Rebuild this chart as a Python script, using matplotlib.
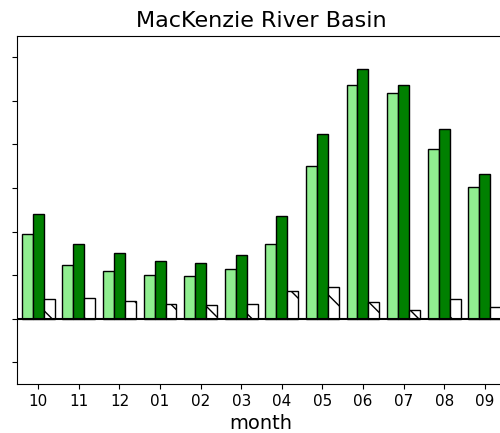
import numpy as np
import matplotlib
matplotlib.use("Agg")
import matplotlib.pyplot as plt

# monthly values (water year, Oct - Sep)
months = ["10", "11", "12", "01", "02", "03", "04", "05", "06", "07", "08", "09"]
light = [1.94, 1.23, 1.10, 1.00, 0.97, 1.13, 1.72, 3.50, 5.36, 5.17, 3.90, 3.02]
dark = [2.40, 1.71, 1.50, 1.33, 1.29, 1.47, 2.35, 4.23, 5.73, 5.37, 4.36, 3.31]
white = [0.45, 0.48, 0.41, 0.33, 0.31, 0.34, 0.64, 0.73, 0.38, 0.21, 0.46, 0.28]

x = np.arange(len(months))
w = 0.27

fig = plt.figure(figsize=(5.0, 4.33), dpi=100)
# axes run past the right edge of the image, as in the reference
ax = fig.add_axes([0.034, 0.113, 0.976, 0.805])

ax.bar(x - w, light, w, color="lightgreen", edgecolor="black", linewidth=1)
ax.bar(x, dark, w, color="green", edgecolor="black", linewidth=1)
ax.bar(x + w, white, w, color="white", edgecolor="black", linewidth=1, hatch="\\")
ax.axhline(0, color="black", linewidth=1.5)

ax.set_xticks(x)
ax.set_xticklabels(months, fontsize=11)
ax.set_yticks(np.arange(-1, 7))
ax.set_yticklabels([])
ax.set_xlim(-0.525, 11.5)
ax.set_ylim(-1.5, 6.5)
ax.set_xlabel("month", fontsize=14)
ax.set_title("MacKenzie River Basin", fontsize=16)

fig.savefig("out.png", dpi=100)
